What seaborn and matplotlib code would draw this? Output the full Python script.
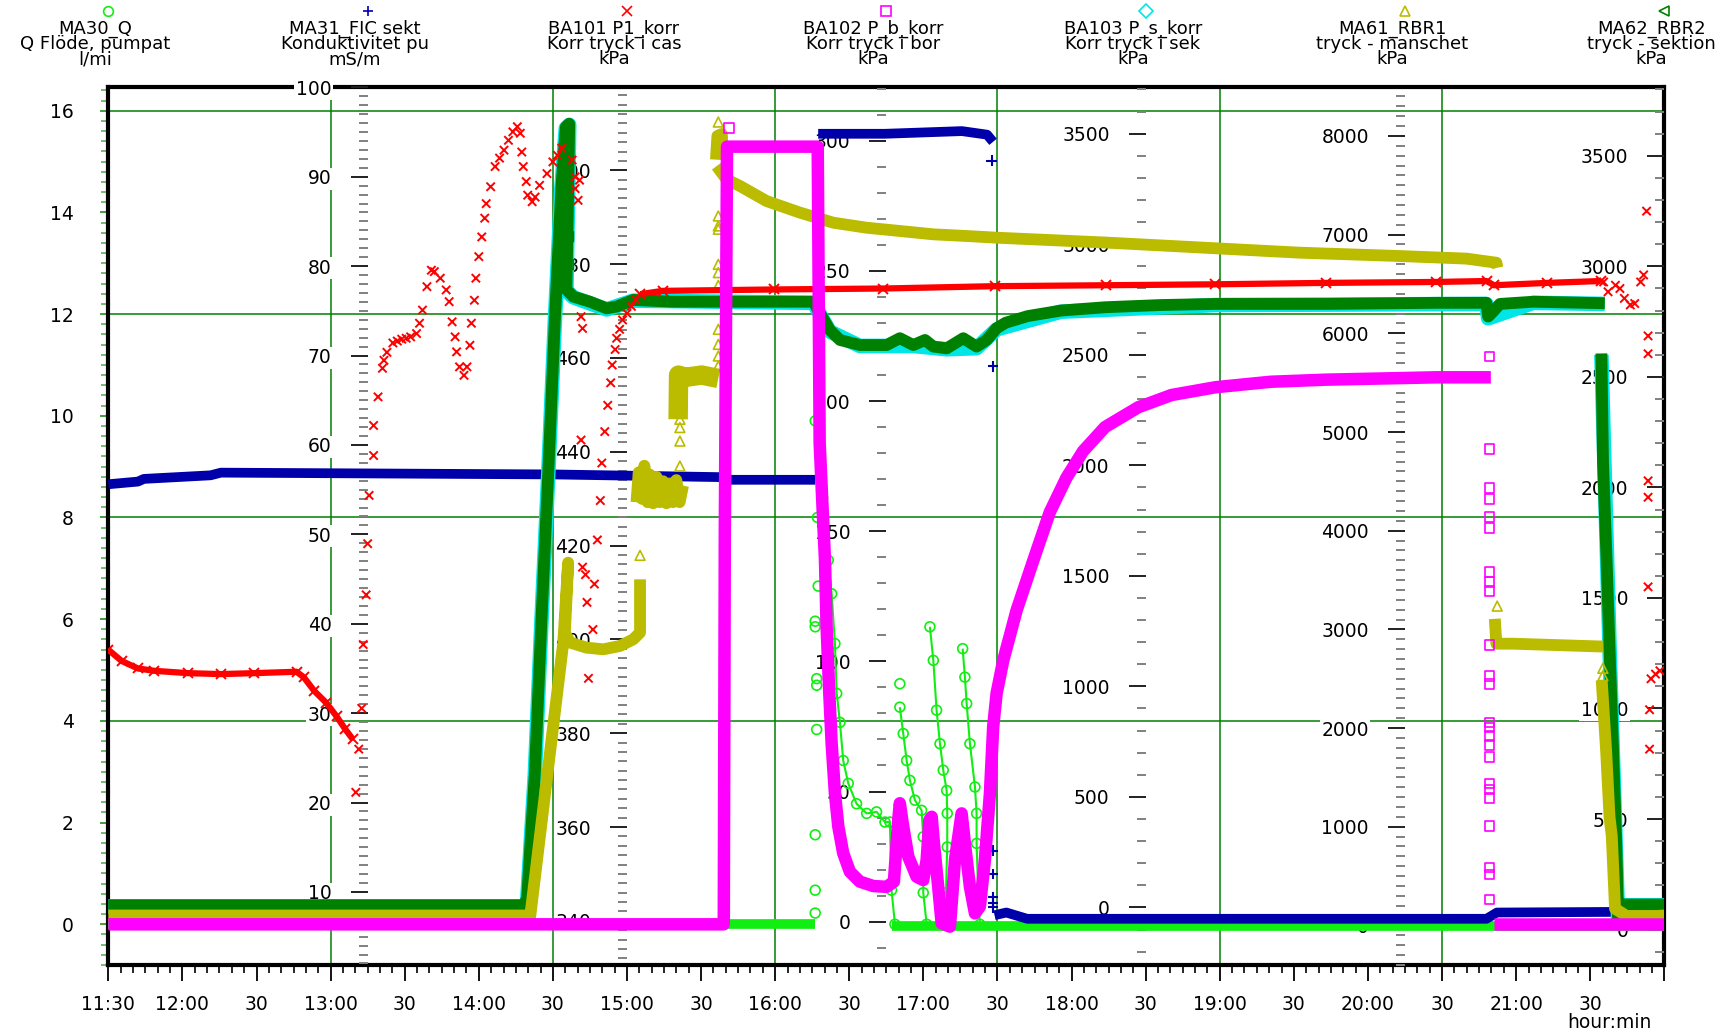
import pandas as pd
import matplotlib
matplotlib.use("Agg")
import matplotlib.pyplot as plt
from matplotlib.lines import Line2D
from matplotlib.markers import MarkerStyle
from matplotlib.ticker import MultipleLocator
import seaborn as sns

N = None

# ---------------- axes / labels ----------------
x_ticks = [11.5, 12.0, 12.5, 13.0, 13.5, 14.0, 14.5, 15.0, 15.5, 16.0, 16.5,
           17.0, 17.5, 18.0, 18.5, 19.0, 19.5, 20.0, 20.5, 21.0, 21.5, 22.0]
x_labels = ["11:30", "12:00", "30", "13:00", "30", "14:00", "30", "15:00", "30",
            "16:00", "30", "17:00", "30", "18:00", "30", "19:00", "30", "20:00",
            "30", "21:00", "30", ""]
grid_x = [13.0, 14.5, 16.0, 17.5, 19.0, 20.5]
grid_y = [4, 8, 12, 16]

names = ["MA30_Q", "MA31_FIC sekt", "BA101 P1_korr", "BA102 P_b_korr",
         "BA103 P_s_korr", "MA61_RBR1", "MA62_RBR2"]
descs = ["Q Flöde, pumpat", "Konduktivitet pu", "Korr tryck i cas",
         "Korr tryck i bor", "Korr tryck i sek", "tryck - manschet", "tryck - sektion"]
units = ["l/mi", "mS/m", "kPa", "kPa", "kPa", "kPa", "kPa"]
y_lims = [(-0.80, 16.46), (1.84, 100.0), (330.6, 517.7), (-16.6, 320.5),
          (-260, 3710), (-400, 8493), (-160, 3810)]
y_major = [2, 10, 20, 50, 500, 1000, 500]
y_minor = [0.2, 1, 2, 10, 100, 100, 100]
colors = ["#11EE11", "#0000AA", "#FF0000", "#FF00FF", "#00E5E5", "#BBBB00", "#008000"]
markers = ["o", "+", "x", "s", "D", "^", "<"]

# ---------------- data (time in hours of day) ----------------
# MA30_Q flow, l/min
q_band_t = [11.50, 16.27, N, 16.79, 22.00]
q_band_v = [0.0, 0.0, N, -0.03, -0.03]
q_line_t = [16.30, 16.32, 16.358, 16.381, 16.403, 16.415, 16.437, 16.459, 16.493, 16.549,
            16.617, 16.684, 16.741, 16.774, 16.785, 16.808, N,
            16.841, 16.864, 16.887, 16.909, 16.943, 16.988, 16.999, 16.999, 17.022, N,
            17.044, 17.067, 17.089, 17.112, 17.134, 17.157, 17.161, 17.161, 17.152, 17.190, N,
            17.265, 17.280, 17.292, 17.314, 17.348, 17.359, 17.359, 17.370, 17.381]
q_line_v = [9.91, 8.39, 7.16, 6.50, 5.52, 4.54, 3.97, 3.22, 2.77, 2.37,
            2.18, 2.21, 2.01, 2.01, 0.67, 0.0, N,
            4.27, 3.75, 3.22, 2.83, 2.44, 2.24, 1.72, 0.62, 0.0, N,
            5.85, 5.19, 4.21, 3.55, 3.03, 2.63, 2.18, 1.52, 0.62, 0.0, N,
            5.42, 4.86, 4.34, 3.55, 2.70, 2.18, 1.59, 0.62, 0.0]
q_pt_t = [16.27, 16.285, 16.29, 16.27, 16.27, 16.28, 16.28, 16.28, 16.27, 16.27, 16.27, 16.841]
q_pt_v = [9.9, 8.0, 6.65, 5.96, 5.85, 4.83, 4.70, 3.83, 1.76, 0.67, 0.22, 4.73]

# MA31 conductivity, mS/m
cond_t = [11.50, 11.70, 11.74, 12.19, 12.26, 14.50, 15.62, 15.69, 16.27, N,
          16.29, 16.74, 17.26, 17.43, 17.47, N,
          17.48, 17.56, 17.70, 20.80, 20.87, 22.00]
cond_v = [55.6, 55.9, 56.2, 56.6, 56.9, 56.7, 56.4, 56.1, 56.1, N,
          94.8, 94.8, 95.1, 94.7, 93.9, N,
          7.4, 7.7, 7.0, 7.0, 7.7, 7.8]
cond_pt_t = [17.46, 17.47, 17.47, 17.47, 17.47, 17.47, 17.47, 17.47]
cond_pt_v = [91.8, 68.8, 27.4, 14.6, 12.0, 9.4, 8.8, 8.3]

# BA101 P1, kPa
p1_band_t = [11.50, 11.59, 11.70, 11.81, 12.04, 12.26, 12.48, 12.77, 12.82, 12.89,
             12.97, 13.04, 13.10, 13.15, N,
             15.09, 15.24, 15.99, 16.73, 17.48, 18.23, 18.97, 19.72, 20.46, 20.80,
             20.85, 21.21, 21.57]
p1_band_v = [397.8, 395.4, 393.8, 393.3, 392.8, 392.6, 392.8, 393.1, 391.9, 389.0,
             386.5, 383.6, 380.8, 378.7, N,
             473.6, 474.3, 474.6, 474.8, 475.3, 475.5, 475.7, 476.0, 476.2, 476.4,
             475.5, 476.0, 476.4]
p1_pt_t = [13.17, 13.19, 13.21, 13.22, 13.24, 13.25, 13.26, 13.29, 13.29, 13.32,
           13.35, 13.36, 13.38, 13.42, 13.45, 13.48, 13.51, 13.54, 13.58, 13.60,
           13.62, 13.65, 13.68, 13.70, 13.74, 13.78, 13.80, 13.82, 13.84, 13.85,
           13.87, 13.90, 13.92, 13.94, 13.95, 13.97, 13.98, 14.00, 14.02, 14.04,
           14.05, 14.08, 14.11, 14.14, 14.17, 14.20, 14.23, 14.26, 14.28, 14.29,
           14.30, 14.32, 14.33, 14.36, 14.38, 14.41, 14.46, 14.50, 14.53, 14.56,
           14.63, 14.65, 14.65, 14.67, 14.68, 14.69, 14.70, 14.69, 14.82, 14.80,
           14.70, 14.72, 14.78, 14.73, 14.77, 14.74,
           14.83, 14.85, 14.87, 14.89, 14.90, 14.92, 14.93, 14.95, 14.97, 15.00,
           15.03, 15.06,
           21.59, 21.62, 21.67, 21.70, 21.73, 21.77, 21.80, 21.84, 21.86, 21.88,
           21.89, 21.89, 21.89, 21.89, 21.89, 21.90, 21.90, 21.91, 21.94, 21.97]
p1_pt_v = [367.4, 376.6, 385.3, 398.9, 409.5, 420.4, 430.7, 439.2, 445.6, 451.7,
           457.8, 459.5, 461.2, 463.2, 463.6, 464.0, 464.2, 464.5, 465.2, 467.4,
           470.2, 475.2, 478.7, 478.4, 477.0, 474.5, 472.0, 467.7, 464.5, 461.3,
           458.1, 456.3, 458.1, 462.7, 467.4, 472.3, 477.0, 481.6, 485.8, 489.8,
           492.9, 496.5, 500.8, 502.6, 504.3, 506.4, 508.2, 509.3, 507.9, 503.9,
           500.8, 497.6, 494.7, 493.3, 494.3, 496.8, 499.3, 501.8, 503.2, 504.7,
           502.2, 498.6, 496.1, 493.6, 497.9, 468.8, 466.3, 442.5, 429.6, 421.2,
           415.4, 413.8, 411.8, 407.9, 402.1, 391.7,
           437.6, 444.3, 449.9, 454.7, 458.5, 461.8, 464.2, 466.1, 468.1, 469.5,
           471.0, 472.4,
           476.2, 474.1, 475.5, 474.8, 472.7, 471.3, 471.6, 476.2, 477.7, 491.3,
           464.7, 460.9, 433.8, 430.3, 411.2, 385.0, 376.6, 391.6, 392.6, 393.3]

# BA102 P_b, kPa
pb_t = [11.50, 15.653, 15.66, 15.675, 16.272, 16.287, 16.30, 16.32, 16.336, 16.347,
        16.365, 16.381, 16.403, 16.426, 16.459, 16.504, 16.571, 16.662, 16.752, 16.801,
        16.830, 16.841, 16.864, 16.898, 16.954, 16.999, 17.022, 17.040, 17.056, 17.071,
        17.100, 17.123, 17.179, 17.213, 17.258, 17.280, 17.314, 17.348, 17.381, 17.415,
        17.449, 17.471, 17.494, 17.539, 17.629, 17.742, 17.853, 17.965, 18.077, 18.226,
        18.450, 18.674, 18.972, 19.345, 19.718, 20.463, 20.829, N, 20.85, 22.00]
pb_v = [-1, -1, 150, 297.7, 297.7, 297.7, 184, 158.6, 138.8, 113.2,
        87.7, 68.4, 49.3, 36.5, 26.3, 19.2, 15.4, 13.7, 13.4, 15.4,
        39.0, 45.5, 36.5, 25.0, 17.3, 16.0, 23.7, 39.0, 40.3, 30.1,
        13.4, -0.6, -1.9, 23.7, 41.6, 30.1, 13.4, 3.2, 5.8, 23.7,
        49.3, 74.9, 87.7, 100.4, 119.6, 138.8, 157.3, 170.5, 180.7, 190.0,
        197.6, 202.3, 205.3, 207.4, 208.2, 209.1, 209.1, N, -1, -1]
pb_pt_t = [15.69, 20.82, 20.82, 20.82, 20.82, 20.82, 20.82, 20.82, 20.82, 20.82,
           20.82, 20.82, 20.82, 20.82, 20.82, 20.82, 20.82, 20.82, 20.82, 20.82,
           20.82, 20.82, 20.82, 20.82, 20.82]
pb_pt_v = [305, 217.1, 181.6, 166.6, 162.5, 155.5, 151.3, 134.3, 130.6, 127.1,
           106.4, 94.5, 91.3, 76.5, 74.6, 71.4, 67.9, 63.4, 53.1, 50.8,
           47.5, 36.7, 20.8, 18.1, 8.5]

# BA103 P_s, kPa
ps_t = [11.50, 14.30, 14.326, 14.378, 14.423, 14.468, 14.513, 14.557, 14.587, 14.61,
        14.602, 14.591, 14.638, 14.863, 15.042, 16.258, 16.369, 16.571, 16.932, 17.157,
        17.359, 17.494, 17.928, 18.972, 20.799, 20.811, 21.115, 21.598, N,
        21.575, 21.632, 21.688, 21.722, 22.00]
ps_v = [5, 5, 25, 600, 1300, 1950, 2650, 3250, 3525, 3540,
        3195, 2790, 2760, 2705, 2745, 2735, 2605, 2540, 2540, 2525,
        2530, 2615, 2695, 2725, 2730, 2665, 2735, 2730, N,
        2500, 1130, -60, 10, 10]

# MA61 RBR1, kPa
r1_t = [11.50, 14.334, 14.345, 14.570, 14.603, 14.581, 14.615, 14.727, 14.840, 14.953,
        15.042, 15.088, 15.088, N,
        15.064, 15.079, 15.102, 15.117, 15.139, 15.154, 15.176, 15.199, 15.221, 15.244,
        15.266, 15.288, 15.311, 15.333, 15.355, 15.378, N,
        15.60, 15.61, 15.64, 15.645, N,
        15.605, 15.672, 15.762, 15.942, 16.167, 16.392, 16.617, 16.841, 17.067, 17.292,
        17.494, 18.226, 19.541, 20.215, 20.665, 20.867, 20.873, N,
        20.856, 20.866, 20.978, 21.586, N,
        21.577, 21.607, 21.630, 21.645, 21.667, 21.745, 21.948, 22.00]
r1_v = [101, 101, 67, 2867, 3676, 2967, 2867, 2815, 2798, 2832,
        2899, 2967, 3507, N,
        4289, 4591, 4322, 4658, 4289, 4569, 4278, 4546, 4289, 4501,
        4278, 4479, 4289, 4513, 4289, 4457, N,
        7760, 8000, 8020, 7800, N,
        7695, 7560, 7493, 7340, 7223, 7121, 7070, 7037, 7003, 6986,
        6969, 6920, 6817, 6783, 6757, 6715, 6665, N,
        3107, 2855, 2855, 2826, N,
        2486, 1769, 1097, 907, 170, 96, 96, 101]
r1_wide_t = [15.345, 15.348, 15.393, 15.504, 15.616]
r1_wide_v = [5129, 5577, 5554, 5577, 5543]
r1_pt_t = [15.088, 15.357, 15.357, 15.357, 15.357, 15.357, 15.616, 15.616, 15.616, 15.616,
           15.616, 15.616, 15.616, 15.616, 15.616, 15.616, 15.616, 20.872, 21.585, 21.585]
r1_pt_v = [3750, 5213, 5129, 5045, 4908, 4655, 8141, 7189, 7088, 7055,
           6699, 6615, 6486, 6040, 5888, 5770, 5668, 3236, 2606, 2531]

# MA62 RBR2, kPa
r2_t = [11.50, 14.30, 14.326, 14.378, 14.423, 14.468, 14.513, 14.557, 14.587, 14.61,
        14.602, 14.591, 14.638, 14.75, 14.863, 14.93, 15.042, 15.312, 15.762, 16.258,
        16.302, 16.369, 16.437, 16.571, 16.752, 16.841, 16.932, 17.011, 17.067, 17.157,
        17.269, 17.359, 17.427, 17.494, 17.555, 17.704, 17.928, 18.226, 18.599, 18.972,
        19.718, 20.463, 20.799, 20.811, 20.844, 20.890, 21.115, 21.598, N,
        21.575, 21.586, 21.610, 21.632, 21.655, 21.677, 21.688, 21.722, 22.00]
r2_v = [110, 110, 140, 705, 1405, 2055, 2755, 3355, 3630, 3645,
        3300, 2895, 2863, 2840, 2810, 2818, 2848, 2840, 2840, 2840,
        2788, 2712, 2667, 2644, 2644, 2675, 2644, 2667, 2637, 2629,
        2675, 2637, 2667, 2720, 2745, 2775, 2800, 2815, 2825, 2830,
        2830, 2835, 2835, 2773, 2795, 2830, 2840, 2833, N,
        2606, 2112, 1673, 1233, 794, 355, 48, 113, 113]
r2_pt_t = [14.605, 14.605]
r2_pt_v = [3134, 3008]


def segs(ts, vs):
    d = pd.DataFrame({"t": ts, "v": vs}, dtype=float)
    d["seg"] = d["t"].isna().cumsum()
    return d.dropna()


def trace(a, ts, vs, color, lw, **kw):
    sns.lineplot(data=segs(ts, vs), x="t", y="v", units="seg", estimator=None,
                 sort=False, color=color, lw=lw, solid_capstyle="butt", ax=a, **kw)


def dots(a, ts, vs, color, marker, s=50, lw=1.2):
    sns.scatterplot(x=ts, y=vs, marker=MarkerStyle(marker, fillstyle="none"),
                    color=color, s=s, linewidth=lw, ax=a)


L, B, W, H = 0.0625, 0.0659, 0.8979, 0.8496
fig = plt.figure(figsize=(17.33, 10.33), dpi=100)
ax = fig.add_axes([L, B, W, H])

# scale axes (ticks + labels only), drawn below the data
scales = [ax]
for i in range(1, 7):
    sa = ax.twinx()
    sa.yaxis.tick_left()
    sa.spines["left"].set_position(("axes", i / 6))
    for sp in sa.spines.values():
        sp.set_visible(False)
    scales.append(sa)

for i, sa in enumerate(scales):
    sa.set_ylim(*y_lims[i])
    sa.yaxis.set_major_locator(MultipleLocator(y_major[i]))
    sa.yaxis.set_minor_locator(MultipleLocator(y_minor[i]))
    if i == 0:
        sa.tick_params(axis="y", which="major", direction="out", length=6, width=1.4,
                       color="#3f9f3f", pad=19, labelsize=13.5)
        sa.tick_params(axis="y", which="minor", direction="out", length=5, width=1.2,
                       color="#5fb05f")
    else:
        sa.tick_params(axis="y", which="major", direction="out", length=12.5, width=1.4,
                       color="#202020", pad=13.5, labelsize=13.5)
        sa.tick_params(axis="y", which="minor", direction="out", length=6.5, width=1.4,
                       color="#808080")

for g in grid_x:
    ax.axvline(g, color="#008000", lw=1.1, zorder=0)
for g in grid_y:
    ax.axhline(g, color="#008000", lw=1.1, zorder=0)

for side in ["top", "bottom", "right", "left"]:
    ax.spines[side].set_linewidth(3)
    ax.spines[side].set_color("black")

ax.set_xticks(x_ticks, x_labels)
ax.xaxis.set_minor_locator(MultipleLocator(5 / 60))
ax.tick_params(axis="x", which="major", direction="out", length=11.5, width=1.3,
               pad=10, labelsize=13.5)
ax.tick_params(axis="x", which="minor", direction="out", length=6, width=1.2)


def layer(i):
    da = ax.twinx()
    da.set_ylim(*y_lims[i])
    da.axis("off")
    return da


# data layers, bottom to top
a_q = layer(0)
trace(a_q, q_band_t, q_band_v, colors[0], 7)
trace(a_q, q_line_t, q_line_v, colors[0], 1.5)
dots(a_q, [t for t in q_line_t if t is not None], [v for v in q_line_v if v is not None],
     colors[0], "o")
dots(a_q, q_pt_t, q_pt_v, colors[0], "o")

a_c = layer(1)
trace(a_c, cond_t, cond_v, colors[1], 7)
dots(a_c, cond_pt_t, cond_pt_v, colors[1], "+", s=60, lw=1.5)

a_s = layer(4)
trace(a_s, ps_t, ps_v, colors[4], 10.5)

a_r2 = layer(6)
trace(a_r2, r2_t, r2_v, colors[6], 8.5)
dots(a_r2, r2_pt_t, r2_pt_v, colors[6], "<")

a_r1 = layer(5)
trace(a_r1, r1_t, r1_v, colors[5], 8.5)
trace(a_r1, r1_wide_t, r1_wide_v, colors[5], 14)
dots(a_r1, r1_pt_t, r1_pt_v, colors[5], "^")

a_p1 = layer(2)
trace(a_p1, p1_band_t, p1_band_v, colors[2], 4.5, marker="x", markersize=7, mew=1.4,
      mec=colors[2])
dots(a_p1, p1_pt_t, p1_pt_v, colors[2], "x", s=36, lw=1.4)

a_pb = layer(3)
trace(a_pb, pb_t, pb_v, colors[3], 9)
dots(a_pb, pb_pt_t, pb_pt_v, colors[3], "s")

ax.set_xlim(11.5, 22.0)

# column headers
for i in range(7):
    xc = L + W * i / 6
    fig.add_artist(Line2D([xc], [0.9894], marker=markers[i], color=colors[i],
                          markersize=7, fillstyle="none", mew=1.2, linestyle="none",
                          transform=fig.transFigure))
    fig.text(xc - 0.0075, 0.9575, f"{names[i]}\n{descs[i]}\n{units[i]}",
             ha="center", va="center", multialignment="center",
             fontsize=13, linespacing=0.8)

fig.text(0.9533, 0.0106, "hour:min", ha="right", va="center", fontsize=13.5)

fig.canvas.draw()
for sa in scales[1:]:
    for lab in sa.get_yticklabels():
        lab.set_bbox(dict(boxstyle="square,pad=0.08", fc="white", ec="none"))

fig.savefig("out.png", dpi=100)
